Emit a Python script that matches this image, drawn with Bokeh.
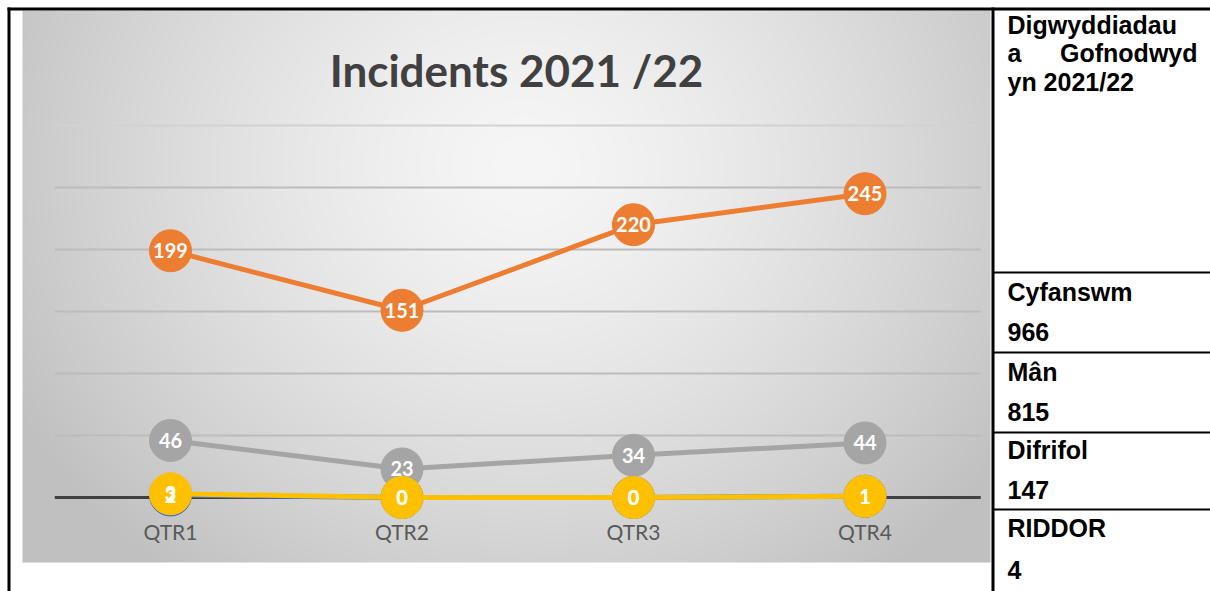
import numpy as np
from bokeh.plotting import figure
from bokeh.models import Range1d, Label, BoxAnnotation
from bokeh.core.properties import value
from bokeh.embed import file_html
from bokeh.resources import INLINE

# ---------------- data ----------------
quarters = ["QTR1", "QTR2", "QTR3", "QTR4"]
man = [199, 151, 220, 245]          # Mân (orange)
difrifol = [46, 23, 34, 44]         # Difrifol (grey)
riddor = [3, 0, 0, 1]               # RIDDOR (gold)
hidden_blue = [2, 0, 0, 1]          # series hidden under RIDDOR
grid_ticks = [50, 100, 150, 200, 250, 300]
title_text = "Incidents 2021 /22"
header_lines = ["Digwyddiadau", "a", "Gofnodwyd", "yn 2021/22"]
row_names = ["Cyfanswm", "Mân", "Difrifol", "RIDDOR"]
row_values = ["966", "815", "147", "4"]

# ---------------- layout constants (page pixels) ----------------
W, H = 1210, 591
OX, OY = 0, 0
XS = 231.5          # px per category
X0_PAGE = 170       # page x of first category
YS = 1.24           # px per unit
Y0_PAGE = 497       # page y of value 0

x_start = -(X0_PAGE - OX) / XS
x_end = x_start + W / XS
y_start = -((OY + H) - Y0_PAGE) / YS
y_end = y_start + H / YS


def sx(px):
    return px - OX


def sy(py):
    return H - (py - OY)


def dx(px):
    return x_start + (px - OX) / XS


def dy(py):
    return y_start + ((OY + H) - py) / YS


p = figure(width=W, height=H, x_range=Range1d(x_start, x_end),
           y_range=Range1d(y_start, y_end), output_backend="svg",
           toolbar_location=None, x_axis_location=None, y_axis_location=None,
           min_border=0, outline_line_color=None,
           background_fill_color="white", border_fill_color="white")
p.grid.visible = False

# ---------------- background gradient of the chart picture ----------------
img_l, img_r, img_t, img_b = 22, 990, 10, 562
nx, ny = (img_r - img_l) // 2, (img_b - img_t) // 2
u = (np.arange(nx) + 0.5) / nx
v = (np.arange(ny) + 0.5) / ny
U, V = np.meshgrid(u, v)
d = np.sqrt(((U - 0.52) / 0.60) ** 2 + ((V - 0.28) / 0.95) ** 2)
d = np.clip(d, 0, 1)
c = (246 - (246 - 192) * d ** 1.4).astype(np.uint8)
c = c[::-1]
arr = np.empty((ny, nx), dtype=np.uint32)
view = arr.view(dtype=np.uint8).reshape((ny, nx, 4))
view[..., 0] = c
view[..., 1] = c
view[..., 2] = c
view[..., 3] = 255
p.image_rgba(image=[arr], x=dx(img_l), y=dy(img_b),
             dw=(img_r - img_l) / XS, dh=(img_b - img_t) / YS, level="underlay")

# ---------------- grid lines & axis ----------------
xs = list(range(len(quarters)))
for t in grid_ticks:
    col = "#d2d2d2" if t == grid_ticks[-1] else "#bcbcbc"
    p.segment(x0=[-0.5], x1=[len(quarters) - 0.5], y0=[t], y1=[t],
              line_color=col, line_width=2)
p.segment(x0=[-0.5], x1=[len(quarters) - 0.5], y0=[0], y1=[0],
          line_color="#404040", line_width=3)


# ---------------- series ----------------
def labels(vals):
    p.text(xs, vals, text=[str(val) for val in vals], text_color="white",
           text_font=value("Lato"), text_font_style="bold",
           text_font_size="20px", text_align="center", text_baseline="middle")


series = [(hidden_blue, "#4472c4"), (man, "#ed7d31"),
          (difrifol, "#a5a5a5"), (riddor, "#ffc000")]
for vals, color in series:
    p.line(xs, vals, line_color=color, line_width=5)
    p.scatter(xs, vals, size=42, fill_color=color, line_color=color)
    if vals is not hidden_blue:
        labels(vals)
labels(hidden_blue)   # its labels show through on top, as in the source

# category labels
p.text(xs, [dy(531)] * len(quarters), text=quarters, text_color="#595959",
       text_font=value("Lato"), text_font_size="21px", text_align="center",
       text_baseline="middle")

# title
p.add_layout(Label(x=sx(516), y=sy(69), x_units="screen", y_units="screen",
                   text=title_text, text_font="Lato", text_font_style="bold",
                   text_font_size="44px", text_color="#404040",
                   text_align="center", text_baseline="middle"))


# ---------------- table lines ----------------
def box(l, r, t, b):
    p.add_layout(BoxAnnotation(left=sx(l), right=sx(r), top=sy(t), bottom=sy(b),
                               left_units="screen", right_units="screen",
                               top_units="screen", bottom_units="screen",
                               fill_color="black", fill_alpha=1.0,
                               line_color=None, level="overlay"))


box(7, 10, 7, 591)        # left border
box(7, 1210, 7, 10)       # top border
box(991, 994, 7, 591)     # column separator
for yy in [271, 351, 431, 508]:
    box(993, 1210, yy, yy + 2)


# ---------------- table texts ----------------
def tlabel(text, px, py, align="left"):
    p.add_layout(Label(x=sx(px), y=sy(py), x_units="screen", y_units="screen",
                       text=text, text_font="Liberation Sans",
                       text_font_style="bold", text_font_size="25px",
                       text_color="black", text_align=align,
                       text_baseline="middle"))


tlabel(header_lines[0], 1007, 24)
tlabel(header_lines[1], 1007, 52)
tlabel(header_lines[2], 1197, 52, align="right")
tlabel(header_lines[3], 1007, 81)
name_mid = [291, 371, 449, 527]
val_mid = [331, 411, 489, 569]
for name, val, nm, vm in zip(row_names, row_values, name_mid, val_mid):
    tlabel(name, 1007, nm)
    tlabel(val, 1007, vm)

open("out.html", "w").write(file_html(p, INLINE))
